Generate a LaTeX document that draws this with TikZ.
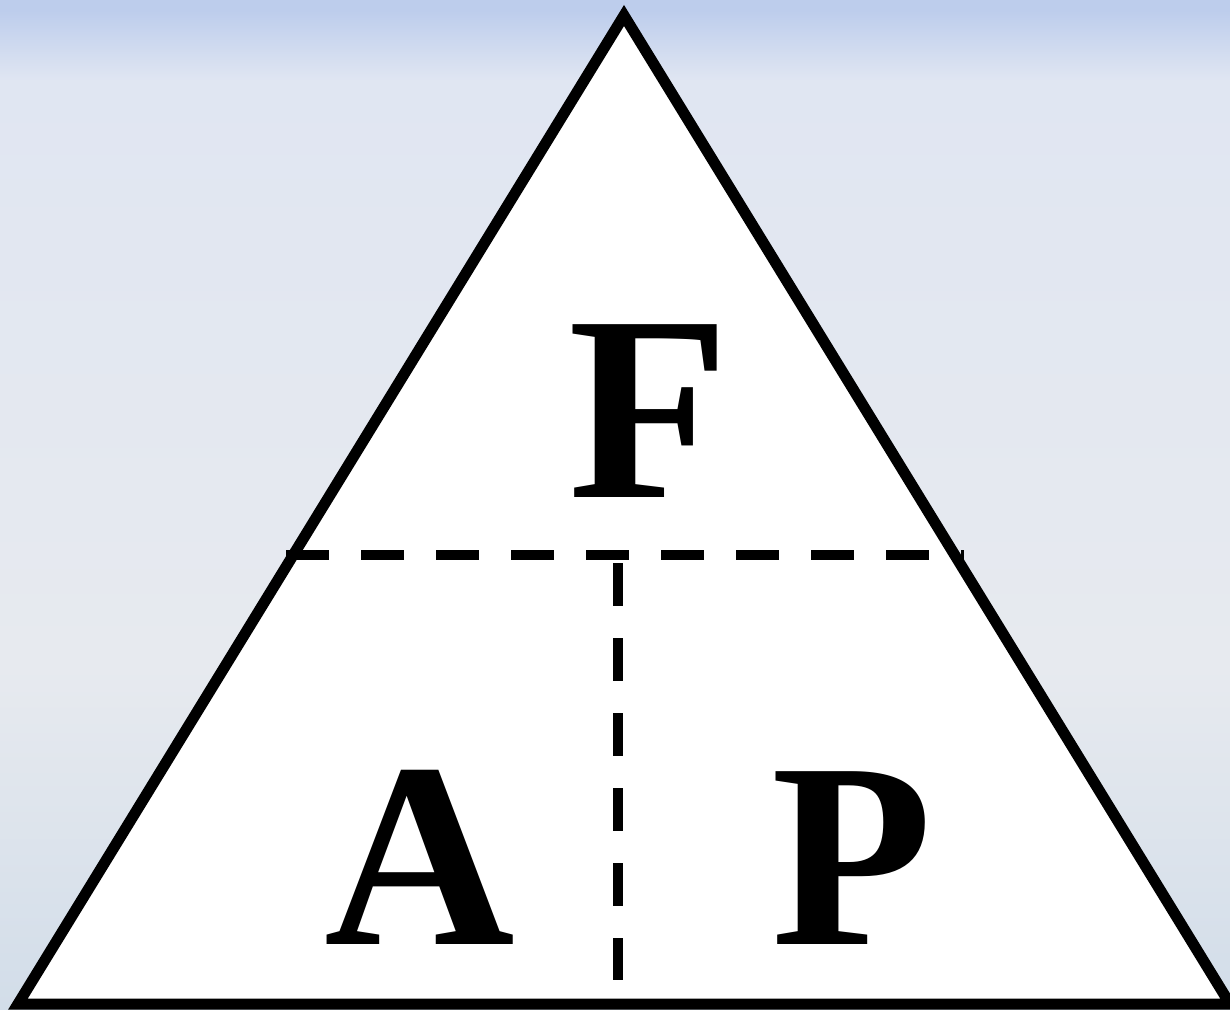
\documentclass[tikz,border=0pt]{standalone}
\usepackage{fontspec}
\setmainfont{Liberation Serif}
\usetikzlibrary{positioning}
\definecolor{skytop}{HTML}{BDCDEC}
\definecolor{skyhaze}{HTML}{E0E6F2}
\definecolor{skymid}{HTML}{E7EAEF}
\definecolor{skylow}{HTML}{D2DDE9}
\pgfdeclareverticalshading{sky}{100bp}{color(0bp)=(skylow); color(25bp)=(skylow);
  color(42bp)=(skymid); color(71bp)=(skyhaze); color(74.5bp)=(skytop); color(100bp)=(skytop)}

\begin{document}
\begin{tikzpicture}[x=0.5pt,y=-0.5pt,
    edge/.style={line width=5.5pt,line join=miter},
    split/.style={line width=5pt,dash pattern=on 21.5pt off 16pt},
    letter/.style={anchor=base,inner sep=0pt,font=\bfseries\fontsize{132}{132}\selectfont}]
    \useasboundingbox (0,0) rectangle (1230,1010);
    \shade[shading=sky] (0,0) rectangle (1230,1010);
    % triangle corners
    \coordinate (apex) at (624,15.5);
    \coordinate (bl) at (18,1004);
    \coordinate (br) at (1230,1004);
    \filldraw[edge,fill=white] (apex) -- (bl) -- (br) -- cycle;
    % dashed split
    \coordinate (midL) at (286,554.5);
    \coordinate (midR) at (964,554.5);
    \coordinate (midC) at (618,563);
    \coordinate (botC) at (618,980);
    \draw[split] (midL) -- (midR);
    \draw[split] (midC) -- (botC);
    \node[letter] (F) at (649,497) {F};
    \node[letter] (A) at (420,944) {A};
    \node[letter] (P) at (852,944) {P};
  \end{tikzpicture}
\end{document}
